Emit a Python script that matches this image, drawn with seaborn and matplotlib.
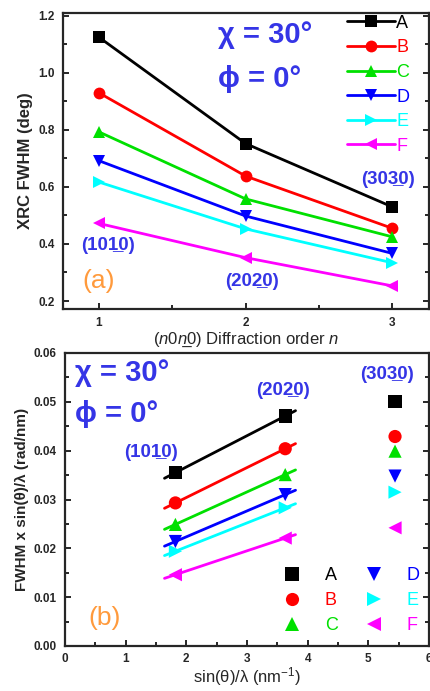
import numpy as np
import pandas as pd
import matplotlib
matplotlib.use("Agg")
import matplotlib.pyplot as plt
from matplotlib.ticker import MultipleLocator
import seaborn as sns

sns.set_style("ticks")
plt.rcParams["font.family"] = ["Liberation Sans", "DejaVu Sans"]
plt.rcParams["mathtext.fontset"] = "custom"
plt.rcParams["mathtext.it"] = "Liberation Sans:italic"
plt.rcParams["mathtext.rm"] = "Liberation Sans"

# data
samples = ["A", "B", "C", "D", "E", "F"]
colors = ["#000000", "#ff0000", "#00e000", "#0000ff", "#00ffff", "#ff00ff"]
marks = ["s", "o", "^", "v", ">", "<"]

order = [1, 2, 3]
fwhm = {
    "A": [1.125, 0.752, 0.530],
    "B": [0.930, 0.638, 0.455],
    "C": [0.793, 0.558, 0.425],
    "D": [0.692, 0.498, 0.367],
    "E": [0.617, 0.453, 0.334],
    "F": [0.472, 0.352, 0.253],
}

s_over_l = [1.82, 3.63, 5.44]
wh = {
    "A": [0.0355, 0.0471, 0.0500],
    "B": [0.0293, 0.0404, 0.0429],
    "C": [0.0249, 0.0351, 0.0399],
    "D": [0.0214, 0.0310, 0.0348],
    "E": [0.0194, 0.0283, 0.0315],
    "F": [0.0146, 0.0221, 0.0242],
}
fit_range = [1.64, 3.80]

blue = "#3535e6"
orange = "#ff9a3c"

rows = []
for s in samples:
    for n, v in zip(order, fwhm[s]):
        rows.append({"n": n, "fwhm": v, "sample": s})
df_a = pd.DataFrame(rows)

rows = []
for s in samples:
    for x, v in zip(s_over_l, wh[s]):
        rows.append({"x": x, "wh": v, "sample": s})
df_b = pd.DataFrame(rows)

pal = dict(zip(samples, colors))
mk = dict(zip(samples, marks))

fig = plt.figure(figsize=(4.30, 6.91), dpi=100)
ax1 = fig.add_axes([63 / 430, 1 - 309 / 691, 366 / 430, 296 / 691])
ax2 = fig.add_axes([65 / 430, 1 - 646 / 691, 364 / 430, 293 / 691])


def style_axes(ax):
    for sp in ax.spines.values():
        sp.set_linewidth(1.6)
        sp.set_visible(True)
    ax.tick_params(which="both", direction="in", width=1.4, right=True, top=False)
    ax.tick_params(which="major", length=4.5, labelsize=8.5, pad=6)
    ax.tick_params(which="minor", length=3)
    for lab in ax.get_xticklabels() + ax.get_yticklabels():
        lab.set_fontweight("bold")


# ---- panel (a)
sns.lineplot(data=df_a, x="n", y="fwhm", hue="sample", style="sample",
             palette=pal, markers=mk, dashes=False, markersize=8.5,
             markeredgewidth=0, linewidth=2, ax=ax1)
ax1.set_xlim(0.755, 3.25)
ax1.set_ylim(0.172, 1.21)
ax1.xaxis.set_major_locator(MultipleLocator(1))
ax1.xaxis.set_minor_locator(MultipleLocator(0.5))
ax1.yaxis.set_major_locator(MultipleLocator(0.2))
ax1.yaxis.set_minor_locator(MultipleLocator(0.1))
ax1.set_xlabel("($n$0$n$\u03320) Diffraction order $n$", fontsize=12, labelpad=1)
ax1.set_ylabel("XRC FWHM (deg)", fontsize=12, fontweight="bold", labelpad=4)
style_axes(ax1)

h, l = ax1.get_legend_handles_labels()
ax1.legend(h, l, loc="upper left", bbox_to_anchor=(0.77, 1.0), frameon=False,
           fontsize=13, handlelength=2.7, handletextpad=0.05, labelspacing=0.42,
           borderpad=0.1, borderaxespad=0, labelcolor=colors)

ax1.text(1.81, 1.133, "\u03c7 = 30\u00b0", color=blue, fontsize=21,
         fontweight="bold", va="center", ha="left")
ax1.text(1.81, 0.98, "\u03d5 = 0\u00b0", color=blue, fontsize=21,
         fontweight="bold", va="center", ha="left")
ax1.text(1.0, 0.27, "(a)", color=orange, fontsize=19, va="center", ha="center")
ax1.text(1.06, 0.395, "(101\u03320)", color=blue, fontsize=13.5,
         fontweight="bold", va="center", ha="center")
ax1.text(2.04, 0.27, "(202\u03320)", color=blue, fontsize=13.5,
         fontweight="bold", va="center", ha="center")
ax1.text(2.97, 0.626, "(303\u03320)", color=blue, fontsize=13.5,
         fontweight="bold", va="center", ha="center")

# ---- panel (b)
sns.scatterplot(data=df_b, x="x", y="wh", hue="sample", style="sample",
                palette=pal, markers=mk, s=90, linewidth=0, ax=ax2)
xf = np.array(fit_range)
for s, c in zip(samples, colors):
    k, b = np.polyfit(s_over_l[:2], wh[s][:2], 1)
    ax2.plot(xf, k * xf + b, color=c, lw=2, zorder=1)

ax2.set_xlim(0, 6)
ax2.set_ylim(0, 0.06)
ax2.xaxis.set_major_locator(MultipleLocator(1))
ax2.xaxis.set_minor_locator(MultipleLocator(0.5))
ax2.yaxis.set_major_locator(MultipleLocator(0.01))
ax2.yaxis.set_minor_locator(MultipleLocator(0.005))
ax2.yaxis.set_major_formatter(matplotlib.ticker.FormatStrFormatter("%.2f"))
ax2.set_xlabel("sin(\u03b8)/\u03bb (nm$^{-1}$)", fontsize=12, labelpad=0)
ax2.set_ylabel("FWHM x sin(\u03b8)/\u03bb (rad/nm)", fontsize=11,
               fontweight="bold", labelpad=3)
style_axes(ax2)
ax2.tick_params(axis="x", pad=5)

h, l = ax2.get_legend_handles_labels()
ax2.legend(h, l, loc="lower left", bbox_to_anchor=(0.6, 0.04), ncol=2,
           frameon=False, fontsize=13, handlelength=1.0, handletextpad=1.3,
           columnspacing=1.5, labelspacing=0.45, borderpad=0,
           borderaxespad=0, labelcolor=colors, markerscale=1.0)

ax2.text(0.16, 0.056, "\u03c7 = 30\u00b0", color=blue, fontsize=21,
         fontweight="bold", va="center", ha="left")
ax2.text(0.16, 0.0475, "\u03d5 = 0\u00b0", color=blue, fontsize=21,
         fontweight="bold", va="center", ha="left")
ax2.text(0.66, 0.0057, "(b)", color=orange, fontsize=19, va="center", ha="center")
ax2.text(1.42, 0.0396, "(101\u03320)", color=blue, fontsize=13.5,
         fontweight="bold", va="center", ha="center")
ax2.text(3.59, 0.0523, "(202\u03320)", color=blue, fontsize=13.5,
         fontweight="bold", va="center", ha="center")
ax2.text(5.31, 0.0555, "(303\u03320)", color=blue, fontsize=13.5,
         fontweight="bold", va="center", ha="center")

fig.savefig("out.png", dpi=100)
plt.close(fig)
